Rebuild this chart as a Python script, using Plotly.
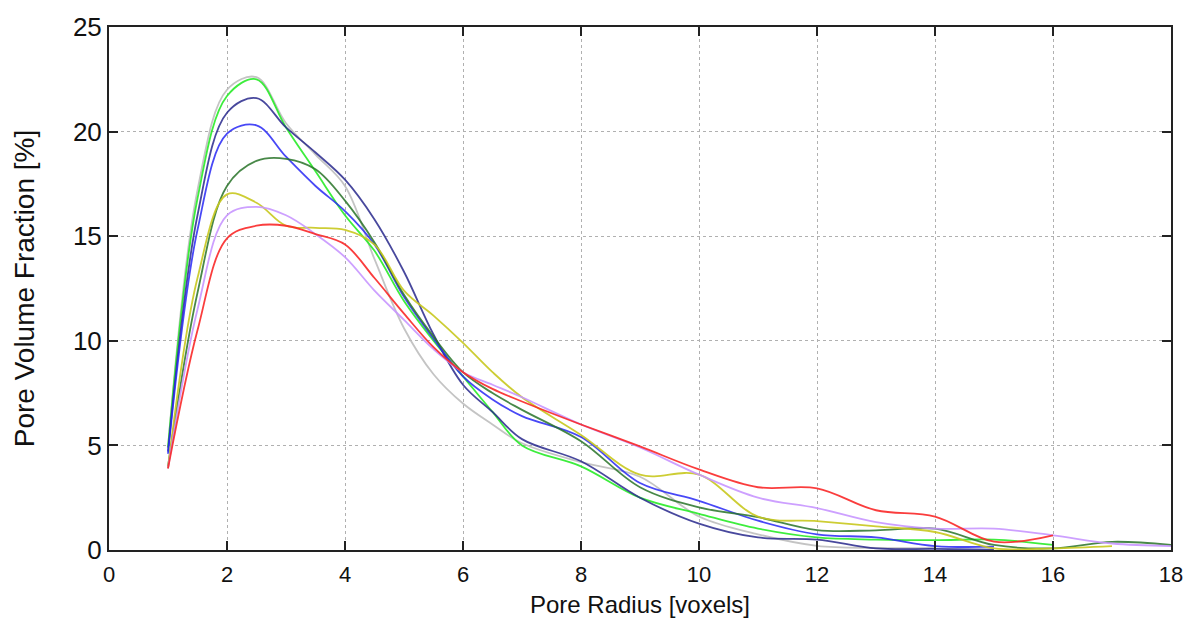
import plotly.graph_objects as go

# Pore radius sample positions [voxels]
radius = [1, 1.5, 2, 2.5, 3, 3.5, 4, 4.5, 5, 5.5, 6, 6.5, 7, 8, 9, 10, 11, 12, 13, 14, 15, 16, 17, 18]

# Pore volume fraction [%] per sample (None = no data)
gray_vals = [4.9, 17.2, 22.0, 22.6, 20.4, 18.9, 17.4, 13.9, 10.6, 8.4, 7.0, 6.0, 5.1, 4.2, 3.5, 1.6, 0.75, 0.2, 0.1, 0.1, None, None, None, None]
green_vals = [4.9, 16.8, 21.7, 22.5, 20.2, 18.1, 16.0, 14.3, 11.9, 10.0, 8.3, 6.6, 5.0, 4.0, 2.5, 1.73, 1.02, 0.6, 0.5, 0.47, 0.5, 0.24, None, None]
navy_vals = [4.7, 16.0, 20.9, 21.6, 20.2, 19.0, 17.7, 15.8, 13.3, 10.3, 7.9, 6.6, 5.3, 4.24, 2.5, 1.26, 0.6, 0.5, 0.08, 0.05, 0.02, None, None, None]
blue_vals = [4.6, 15.3, 19.9, 20.3, 18.8, 17.4, 16.2, 14.6, 12.1, 10.1, 8.3, 7.2, 6.4, 5.4, 3.2, 2.35, 1.4, 0.75, 0.6, 0.19, 0.16, None, None, None]
dkgreen_vals = [4.0, 12.3, 17.4, 18.6, 18.7, 18.2, 16.7, 14.7, 12.2, 10.2, 8.5, 7.5, 6.7, 5.2, 3.0, 2.04, 1.57, 0.95, 0.94, 1.02, 0.24, 0.08, 0.39, 0.24]
yellow_vals = [3.9, 13.0, 17.0, 16.6, 15.5, 15.4, 15.3, 14.6, 12.4, 11.2, 9.9, 8.5, 7.3, 5.5, 3.6, 3.6, 1.6, 1.38, 1.13, 0.86, 0.08, 0.08, 0.19, None]
lavender_vals = [3.9, 11.5, 16.0, 16.4, 16.0, 15.1, 14.0, 12.4, 11.0, 9.6, 8.5, 7.9, 7.3, 6.0, 4.9, 3.6, 2.5, 2.0, 1.33, 1.02, 1.02, 0.7, 0.31, 0.19]
red_vals = [3.9, 10.5, 14.9, 15.5, 15.5, 15.1, 14.6, 13.0, 11.3, 9.7, 8.5, 7.7, 7.1, 6.0, 4.95, 3.85, 3.0, 2.95, 1.9, 1.6, 0.4, 0.7, None, None]

series = [
    (gray_vals, "rgba(190,190,190,0.9)"),
    (green_vals, "rgba(40,235,40,0.9)"),
    (navy_vals, "rgba(40,40,140,0.85)"),
    (blue_vals, "rgba(40,40,245,0.85)"),
    (dkgreen_vals, "rgba(40,115,40,0.85)"),
    (yellow_vals, "rgba(200,200,30,0.9)"),
    (lavender_vals, "rgba(200,150,255,0.9)"),
    (red_vals, "rgba(250,40,40,0.9)"),
]

x_ticks = list(range(0, 19, 2))
y_ticks = list(range(0, 26, 5))

fig = go.Figure()
for vals, color in series:
    xs = [x for x, v in zip(radius, vals) if v is not None]
    ys = [v for v in vals if v is not None]
    fig.add_trace(go.Scatter(
        x=xs, y=ys, mode="lines",
        line=dict(color=color, width=1.8, shape="spline", smoothing=1.0),
        showlegend=False, hoverinfo="skip",
    ))

axis_common = dict(
    showline=True, mirror="allticks", linecolor="#222222", linewidth=2,
    ticks="inside", ticklen=9, tickwidth=1.5, tickcolor="#222222",
    showgrid=True, gridcolor="#b0b0b0", griddash="dot", gridwidth=1,
    zeroline=False,
)

fig.update_xaxes(
    range=[0, 18], tickvals=x_ticks, ticktext=[str(t) for t in x_ticks],
    tickfont=dict(family="Liberation Sans, Arial", size=22, color="#111111"),
    ticklabelstandoff=4,
    title=dict(text="Pore Radius [voxels]", standoff=10,
               font=dict(family="Liberation Sans, Arial", size=24, color="#111111")),
    **axis_common,
)
fig.update_yaxes(
    range=[0, 25], tickvals=y_ticks, ticktext=[str(t) for t in y_ticks],
    tickfont=dict(family="Liberation Sans, Arial", size=26, color="#111111"),
    title=dict(text="Pore Volume Fraction [%]", standoff=30,
               font=dict(family="Liberation Sans, Arial", size=28, color="#111111")),
    **axis_common,
)

fig.update_layout(
    width=1198, height=628,
    margin=dict(l=109, r=27, t=19, b=78),
    paper_bgcolor="white", plot_bgcolor="white",
)

fig.write_html("out.html")
